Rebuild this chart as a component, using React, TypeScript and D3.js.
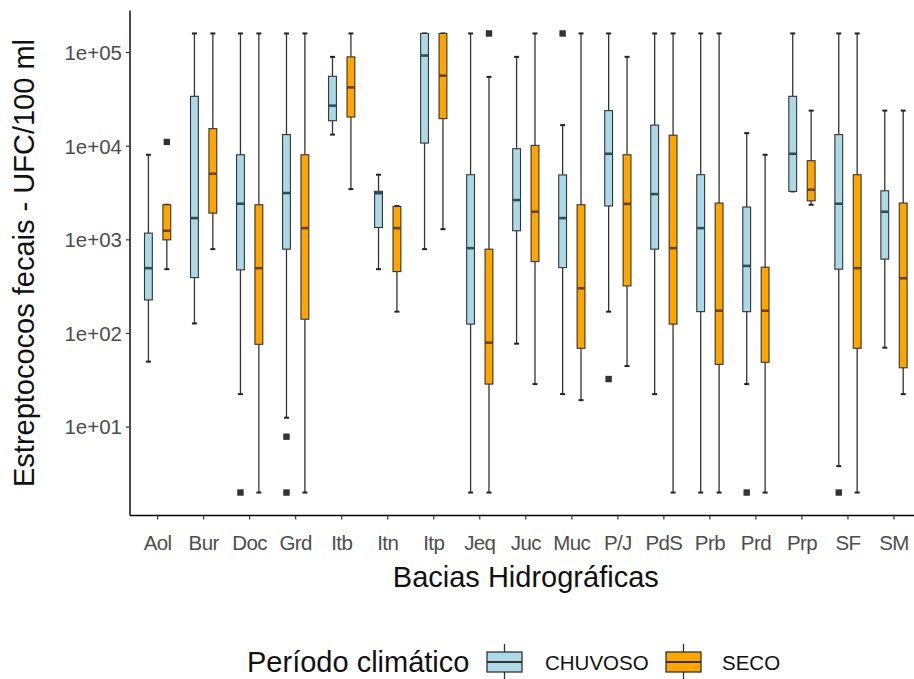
import React from "react";
import * as d3 from "d3";

const categories = ["Aol","Bur","Doc","Grd","Itb","Itn","Itp","Jeq","Juc","Muc","P/J","PdS","Prb","Prd","Prp","SF","SM"];
const periods = ["CHUVOSO", "SECO"];
const periodColors = ["#ADD8E6", "#FFA500"];
const medianColors = ["#2e4f57", "#6e4308"];

// CHUVOSO statistics
const chuvosoLower = [50, 128, 22.5, 12.6, 13300, 486, 795, 2, 77.8, 22.5, 171, 22.5, 2, 28.8, 3290, 3.83, 70.5];
const chuvosoQ1 = [228, 395, 478, 795, 18700, 1355, 10800, 126, 1250, 505, 2300, 795, 171, 171, 3290, 486, 622];
const chuvosoMedian = [498, 1706, 2430, 3160, 27100, 3150, 92900, 815, 2660, 1706, 8300, 3080, 1334, 527, 8300, 2430, 1995];
const chuvosoQ3 = [1180, 34100, 8100, 13300, 55800, 3300, 160000, 4960, 9400, 4930, 24000, 16800, 4960, 2240, 34100, 13300, 3340];
const chuvosoUpper = [8100, 160000, 160000, 160000, 90000, 4960, 160000, 160000, 90000, 16800, 160000, 160000, 160000, 13800, 160000, 160000, 24000];
const chuvosoOutliers: [string, number][] = [["Doc", 2], ["Grd", 7.9], ["Grd", 2], ["Muc", 160000], ["P/J", 32.6], ["Prd", 2], ["SF", 2]];

// SECO statistics
const secoLower = [486, 795, 2, 2, 3480, 171, 1300, 2, 28.8, 19.4, 44.9, 2, 2, 2, 2370, 2, 22.5];
const secoQ1 = [1000, 1930, 76.6, 142, 20500, 458, 19700, 28.8, 586, 69.5, 322, 126, 46.8, 49.2, 2610, 69.5, 43];
const secoMedian = [1250, 5080, 498, 1334, 42500, 1334, 56700, 79.8, 1995, 304, 2420, 815, 175, 175, 3430, 498, 389];
const secoQ3 = [2370, 15400, 2370, 8100, 90000, 2270, 160000, 795, 10200, 2370, 8100, 13100, 2470, 511, 7000, 4960, 2470];
const secoUpper = [2370, 160000, 160000, 160000, 160000, 2300, 160000, 55000, 160000, 160000, 90000, 160000, 160000, 8100, 24000, 160000, 24000];
const secoOutliers: [string, number][] = [["Aol", 11100], ["Jeq", 160000]];

const yTicks = [10, 100, 1000, 10000, 100000];
const yTickLabels = ["1e+01", "1e+02", "1e+03", "1e+04", "1e+05"];

const W = 914, H = 679;
const panelLeft = 130, panelRight = 921.6, panelTop = 10.5, panelBottom = 515.5;
const FONT = "'Liberation Sans', Arial, sans-serif";

export default function App() {
  const x = d3.scalePoint<string>().domain(categories).range([panelLeft, panelRight]).padding(0.6);
  const step = x.step();
  const allVals = [...chuvosoLower, ...chuvosoUpper, ...secoLower, ...secoUpper, ...chuvosoOutliers.map(o => o[1]), ...secoOutliers.map(o => o[1])];
  const lo = Math.log10(d3.min(allVals) as number), hi = Math.log10(d3.max(allVals) as number);
  const pad = (hi - lo) * 0.05;
  const y = d3.scaleLog().domain([Math.pow(10, lo - pad), Math.pow(10, hi + pad)]).range([panelBottom, panelTop]);

  const series = [
    { lower: chuvosoLower, q1: chuvosoQ1, med: chuvosoMedian, q3: chuvosoQ3, upper: chuvosoUpper, out: chuvosoOutliers },
    { lower: secoLower, q1: secoQ1, med: secoMedian, q3: secoQ3, upper: secoUpper, out: secoOutliers },
  ];
  const dodge = step * 0.2;
  const boxW = step * 0.17;
  const capW = 5;

  return (
    <svg width={W} height={H} style={{ position: "absolute", left: 0, top: 0, background: "#fff" }} fontFamily={FONT}>
      <rect x={0} y={0} width={W} height={H} fill="#fff" />
      {series.map((s, si) => {
        const off = si === 0 ? -dodge : dodge;
        return (
          <g key={si}>
            {categories.map((c, i) => {
              const cx = (x(c) as number) + off;
              return (
                <g key={c}>
                  <line x1={cx} x2={cx} y1={y(s.q3[i])} y2={y(s.upper[i])} stroke="#333" strokeWidth={1.3} />
                  <line x1={cx} x2={cx} y1={y(s.q1[i])} y2={y(s.lower[i])} stroke="#333" strokeWidth={1.3} />
                  <line x1={cx - capW / 2} x2={cx + capW / 2} y1={y(s.upper[i])} y2={y(s.upper[i])} stroke="#222" strokeWidth={2} />
                  <line x1={cx - capW / 2} x2={cx + capW / 2} y1={y(s.lower[i])} y2={y(s.lower[i])} stroke="#222" strokeWidth={2} />
                  <rect x={cx - boxW / 2} y={y(s.q3[i])} width={boxW} height={Math.max(0.5, y(s.q1[i]) - y(s.q3[i]))} fill={periodColors[si]} stroke="#333" strokeWidth={1.1} />
                  <line x1={cx - boxW / 2} x2={cx + boxW / 2} y1={y(s.med[i])} y2={y(s.med[i])} stroke={medianColors[si]} strokeWidth={2.6} />
                </g>
              );
            })}
            {s.out.map(([c, v], k) => (
              <rect key={k} x={(x(c) as number) + off - 3.2} y={y(v) - 3.2} width={6.4} height={6.4} fill="#333" />
            ))}
          </g>
        );
      })}
      {/* axes */}
      <line x1={panelLeft} x2={panelLeft} y1={panelTop} y2={panelBottom} stroke="#000" strokeWidth={1.4} />
      <line x1={panelLeft} x2={W} y1={panelBottom} y2={panelBottom} stroke="#000" strokeWidth={1.4} />
      {yTicks.map((t, i) => (
        <g key={t}>
          <line x1={panelLeft - 4} x2={panelLeft} y1={y(t)} y2={y(t)} stroke="#333" strokeWidth={1.2} />
          <text x={panelLeft - 8} y={y(t)} dy="0.36em" textAnchor="end" fontSize={20.5} fill="#4d4d4d">{yTickLabels[i]}</text>
        </g>
      ))}
      {categories.map(c => (
        <g key={c}>
          <line x1={x(c)} x2={x(c)} y1={panelBottom} y2={panelBottom + 4} stroke="#333" strokeWidth={1.2} />
          <text x={x(c)} y={550} textAnchor="middle" fontSize={20.5} fill="#4d4d4d" letterSpacing={-0.6}>{c}</text>
        </g>
      ))}
      <text x={(panelLeft + panelRight) / 2} y={587} textAnchor="middle" fontSize={29} fill="#111">Bacias Hidrográficas</text>
      <text transform={`translate(34,${(panelTop + panelBottom) / 2}) rotate(-90)`} textAnchor="middle" fontSize={29} fill="#111">Estreptococos fecais - UFC/100 ml</text>
      {/* legend */}
      <text x={247} y={672} fontSize={29} fill="#111">Período climático</text>
      {periods.map((p, i) => {
        const kx = i === 0 ? 487 : 666;
        const lx = i === 0 ? 545 : 722;
        return (
          <g key={p}>
            <line x1={kx + 17.5} x2={kx + 17.5} y1={644} y2={680} stroke="#333" strokeWidth={1.3} />
            <rect x={kx} y={652} width={35} height={20} fill={periodColors[i]} stroke="#333" strokeWidth={1.3} />
            <line x1={kx} x2={kx + 35} y1={662} y2={662} stroke="#333" strokeWidth={2.2} />
            <text x={lx} y={670} fontSize={20.5} fill="#111">{p}</text>
          </g>
        );
      })}
    </svg>
  );
}
